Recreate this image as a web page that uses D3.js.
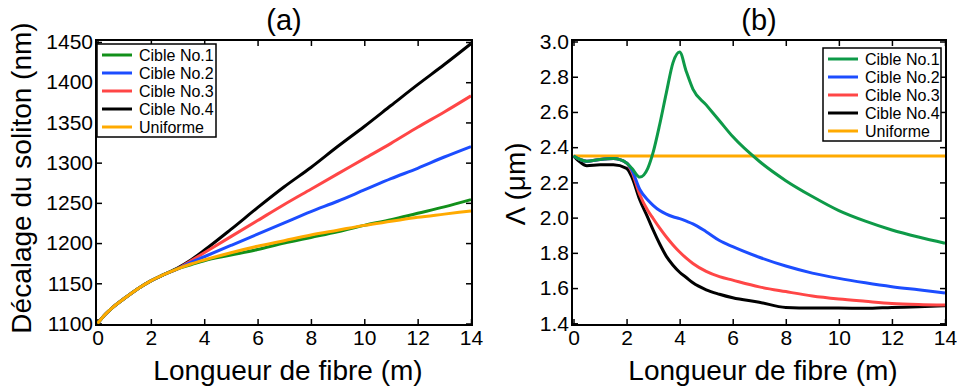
<!DOCTYPE html>
<head>
  <meta charset="utf-8">
  <script src="https://d3js.org/d3.v7.min.js"></script>
  <style>
    body { margin:0; background:#fff; }
    svg { display:block; font-family:"Liberation Sans", Arial, sans-serif; }
  </style>
</head>
<body>
<script>
// series names + colours
var names = ["Cible No.1", "Cible No.2", "Cible No.3", "Cible No.4", "Uniforme"];

// (a) soliton shift vs fibre length
var xA = [0, 0.25, 0.5, 1, 1.5, 2, 2.5, 3, 3.5, 4, 5, 6, 7, 8, 9, 10, 11, 12, 13, 14];
var a1 = [1100, 1110, 1118, 1131, 1143, 1153, 1161, 1168, 1173, 1178, 1185, 1192, 1200, 1207, 1214, 1222, 1229, 1237, 1245, 1254];
var a2 = [1100, 1110, 1118, 1131, 1143, 1153, 1161, 1168, 1176, 1183, 1197, 1211, 1225, 1239, 1252, 1266, 1280, 1293, 1307, 1320];
var a3 = [1100, 1110, 1118, 1131, 1143, 1153, 1161, 1168, 1178, 1188, 1208, 1228, 1248, 1267, 1286, 1305, 1324, 1344, 1363, 1383];
var a4 = [1100, 1110, 1118, 1131, 1143, 1153, 1161, 1169, 1179, 1191, 1217, 1244, 1270, 1294, 1320, 1345, 1371, 1397, 1422, 1448];
var a5 = [1100, 1110, 1118, 1131, 1143, 1153, 1161, 1168, 1174, 1179, 1188, 1196, 1203, 1210, 1216, 1222, 1227, 1232, 1236, 1240];

// (b) Lambda vs fibre length
var xB = [0, 0.25, 0.5, 1, 1.5, 2, 2.2, 2.5, 2.8, 3, 3.25, 3.5, 3.75, 4, 4.25, 4.5, 5, 5.5, 6, 7, 8, 9, 10, 11, 12, 13, 14];
var b1 = [2.35, 2.33, 2.32, 2.33, 2.335, 2.31, 2.28, 2.23, 2.28, 2.37, 2.53, 2.71, 2.88, 2.94, 2.83, 2.73, 2.64, 2.55, 2.46, 2.32, 2.21, 2.12, 2.04, 1.98, 1.93, 1.89, 1.855];
var b2 = [2.35, 2.33, 2.32, 2.33, 2.335, 2.31, 2.27, 2.16, 2.10, 2.07, 2.04, 2.02, 2.005, 1.994, 1.98, 1.965, 1.92, 1.87, 1.835, 1.775, 1.725, 1.685, 1.655, 1.63, 1.608, 1.59, 1.572];
var b3 = [2.35, 2.33, 2.32, 2.33, 2.335, 2.31, 2.26, 2.13, 2.04, 1.995, 1.94, 1.89, 1.845, 1.805, 1.77, 1.74, 1.695, 1.665, 1.645, 1.607, 1.58, 1.555, 1.538, 1.525, 1.513, 1.507, 1.504];
var b4 = [2.35, 2.315, 2.295, 2.30, 2.30, 2.28, 2.23, 2.10, 2.00, 1.93, 1.85, 1.78, 1.73, 1.69, 1.66, 1.63, 1.59, 1.565, 1.545, 1.52, 1.49, 1.487, 1.487, 1.485, 1.49, 1.494, 1.50];
var b5 = [2.35, 2.35, 2.35, 2.35, 2.35, 2.35, 2.35, 2.35, 2.35, 2.35, 2.35, 2.35, 2.35, 2.35, 2.35, 2.35, 2.35, 2.35, 2.35, 2.35, 2.35, 2.35, 2.35, 2.35, 2.35, 2.35, 2.35];

var xTicks = [0, 2, 4, 6, 8, 10, 12, 14];
var yTicksA = [1100, 1150, 1200, 1250, 1300, 1350, 1400, 1450];
var yTicksB = [1.4, 1.6, 1.8, 2.0, 2.2, 2.4, 2.6, 2.8, 3.0];

var svg = d3.select("body").append("svg")
  .attr("width", 957).attr("height", 390);

function panel(o) {
  var x = d3.scaleLinear().domain([0, 14]).range([o.left + 1.5, o.right - 1]);
  var y = d3.scaleLinear().domain(o.ydom).range([o.y0, o.y1]);
  var g = svg.append("g");

  // ticks: labelled bottom/left, bare top/right, all pointing in
  g.append("g").attr("transform", "translate(0," + o.bottom + ")")
    .call(d3.axisBottom(x).tickValues(xTicks).tickSize(-6).tickPadding(5).tickFormat(d3.format("d")));
  g.append("g").attr("transform", "translate(0," + o.top + ")")
    .call(d3.axisTop(x).tickValues(xTicks).tickSize(-6).tickFormat(""));
  g.append("g").attr("transform", "translate(" + o.left + ",0)")
    .call(d3.axisLeft(y).tickValues(o.yticks).tickSize(-6).tickPadding(3).tickFormat(o.fmt));
  g.append("g").attr("transform", "translate(" + o.right + ",0)")
    .call(d3.axisRight(y).tickValues(o.yticks).tickSize(-6).tickFormat(""));
  g.selectAll(".domain").remove();
  g.selectAll(".tick line").attr("stroke", "#000").attr("stroke-width", 1.5);
  g.selectAll(".tick text").attr("fill", "#000").style("font-size", "21px")
    .style("font-family", "'Liberation Sans', Arial, sans-serif");

  var line = d3.line().curve(d3.curveMonotoneX)
    .x(function(d) { return x(d[0]); })
    .y(function(d) { return y(d[1]); });

  o.order.forEach(function(i) {
    var pts = o.xs.map(function(v, k) { return [v, o.vals[i][k]]; });
    g.append("path").attr("d", line(pts))
      .attr("fill", "none").attr("stroke", o.colors[i]).attr("stroke-width", 3)
      .attr("stroke-linejoin", "round");
  });

  g.append("rect").attr("x", o.left).attr("y", o.top)
    .attr("width", o.right - o.left).attr("height", o.bottom - o.top)
    .attr("fill", "none").attr("stroke", "#000").attr("stroke-width", 2);

  // legend
  var lg = g.append("g").attr("transform", "translate(" + o.lx + "," + o.ly + ")");
  lg.append("rect").attr("width", o.lw).attr("height", 93)
    .attr("fill", "#fff").attr("stroke", "#000").attr("stroke-width", 1.5);
  names.forEach(function(n, i) {
    var yy = 11 + i * 18;
    lg.append("line").attr("x1", 5).attr("x2", 35).attr("y1", yy).attr("y2", yy)
      .attr("stroke", o.colors[i]).attr("stroke-width", 3);
    lg.append("text").attr("x", 42).attr("y", yy + 6).text(n)
      .style("font-size", "16px").attr("fill", "#000");
  });

  // titles
  g.append("text").attr("x", (o.left + o.right) / 2).attr("y", 30).attr("text-anchor", "middle")
    .style("font-size", "29px").text(o.title);
  g.append("text").attr("x", (o.left + o.right) / 2 + 4).attr("y", 380).attr("text-anchor", "middle")
    .style("font-size", "28px").text("Longueur de fibre (m)");
  g.append("text").attr("transform", "translate(" + o.labx + "," + o.laby + ") rotate(-90)")
    .attr("text-anchor", "middle").style("font-size", "28px").text(o.ylabel);
}

panel({
  left: 96, right: 472, top: 40, bottom: 325,
  ydom: [1100, 1450], y0: 323.5, y1: 42, yticks: yTicksA, fmt: d3.format("d"),
  xs: xA, vals: [a1, a2, a3, a4, a5],
  colors: ["#12901a", "#1c4dff", "#ff4646", "#000000", "#ffaa00"],
  order: [3, 2, 1, 0, 4],
  lx: 97, ly: 44, lw: 119,
  title: "(a)", ylabel: "Décalage du soliton (nm)", labx: 31, laby: 178
});

panel({
  left: 572, right: 946, top: 40, bottom: 325,
  ydom: [1.4, 3.0], y0: 323.3, y1: 41.5, yticks: yTicksB, fmt: d3.format(".1f"),
  xs: xB, vals: [b1, b2, b3, b4, b5],
  colors: ["#0e9a48", "#1c4dff", "#ff4646", "#000000", "#ffaa00"],
  order: [4, 3, 2, 1, 0],
  lx: 823, ly: 48, lw: 118,
  title: "(b)", ylabel: "Λ (μm)", labx: 525, laby: 184
});
</script>
</body>
